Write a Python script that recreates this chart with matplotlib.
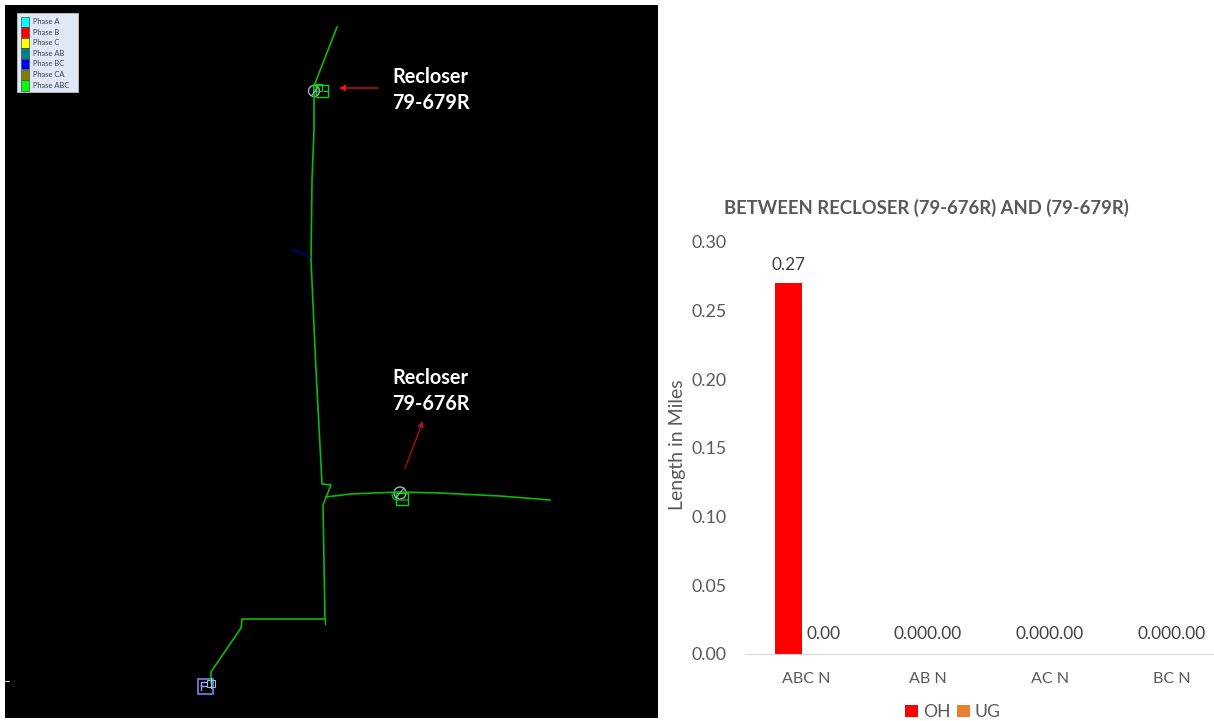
import matplotlib
matplotlib.use('Agg')
import matplotlib.pyplot as plt
from matplotlib.patches import Rectangle, Circle

plt.rcParams['font.family'] = ['Lato', 'DejaVu Sans']

W, H = 1214, 721

# Bar chart data
categories = ['ABC N', 'AB N', 'AC N', 'BC N']
oh_values = [0.27, 0, 0, 0]
ug_values = [0, 0, 0, 0]
y_ticks = [0.00, 0.05, 0.10, 0.15, 0.20, 0.25, 0.30]

# Map legend
phase_names = ['Phase A', 'Phase B', 'Phase C', 'Phase AB', 'Phase BC', 'Phase CA', 'Phase ABC']
phase_colors = ['#00ffff', '#ff0000', '#ffff00', '#008080', '#0000ff', '#808000', '#00ff00']

# Map lines, in image pixels
main_x = [337, 314, 314, 312, 311, 316, 322, 331, 323, 325, 242, 241, 211, 211]
main_y = [27, 86, 130, 180, 260, 370, 484, 485, 505, 619, 619, 628, 672, 682]
branch_x = [326, 350, 400, 440, 500, 550]
branch_y = [497, 494, 492, 493, 496, 500]
stub_x = [293, 310]
stub_y = [250, 257]

GREEN = '#0bb80b'
TEXT = '#595959'

fig = plt.figure(figsize=(W / 100, H / 100), dpi=100, facecolor='white')

# Left panel: everything placed in image pixels
mp = fig.add_axes([0, 0, 1, 1])
mp.set_xlim(0, W)
mp.set_ylim(H, 0)
mp.axis('off')
mp.add_patch(Rectangle((5, 5), 653, 713, facecolor='black', edgecolor='none'))
mp.plot([5, 9], [681, 681], color='white', lw=0.6)

mp.plot(main_x, main_y, color=GREEN, lw=1.2)
mp.plot([325, 325], [619, 624], color=GREEN, lw=1.0)
mp.plot(branch_x, branch_y, color=GREEN, lw=1.2)
mp.plot(stub_x, stub_y, color='#0000a0', lw=1.0)

# Legend box
mp.add_patch(Rectangle((17, 13), 61, 79, facecolor='#dfe8f4', edgecolor='#c8d0dc', lw=0.5))
for i, (name, col) in enumerate(zip(phase_names, phase_colors)):
    yc = 21.5 + i * 10.6
    mp.add_patch(Rectangle((21, yc - 5), 8, 10.4, facecolor=col, edgecolor='#405040', lw=0.5))
    mp.text(33, yc, name, fontsize=5.4, color='#404050', va='center', ha='left')

# Recloser 79-679R symbol
mp.add_patch(Circle((314, 91), 5.5, fill=False, edgecolor='#8fb8c8', lw=1))
mp.plot([312, 318], [95, 87], color='#8fb8c8', lw=0.8)
mp.add_patch(Rectangle((316, 85), 12, 12, fill=False, edgecolor='#10d010', lw=1))
mp.add_patch(Rectangle((313, 84), 9, 7, fill=False, edgecolor='#10d010', lw=0.8))
mp.plot([324, 328], [91, 91], color='#10d010', lw=0.8)

# Recloser 79-676R symbol
mp.add_patch(Circle((400, 493), 6, fill=False, edgecolor='#8fb8c8', lw=1))
mp.plot([396, 404], [498, 488], color='#8fb8c8', lw=0.8)
mp.add_patch(Rectangle((396, 493), 12, 12, fill=False, edgecolor='#10d010', lw=1))
mp.plot([392, 393, 396, 408], [494, 498, 500, 500], color=GREEN, lw=1)

# Source symbol at the bottom
mp.add_patch(Rectangle((197.5, 679), 15, 15, fill=False, edgecolor='#8080e0', lw=1.2))
mp.plot([201, 201, 207], [690, 682, 682], color='#a0a0f0', lw=1)
mp.plot([201, 206], [686, 686], color='#a0a0f0', lw=1)
mp.add_patch(Rectangle((207, 680), 8, 7, fill=False, edgecolor='#90c0e0', lw=0.8))
mp.plot([211, 211], [678, 688], color='#90d0e0', lw=0.8)

# Annotations
mp.text(392, 77, 'Recloser', color='white', fontsize=14.3, fontweight='bold', va='center', ha='left')
mp.text(392, 103, '79-679R', color='white', fontsize=14.3, fontweight='bold', va='center', ha='left')
mp.text(392, 378, 'Recloser', color='white', fontsize=14.3, fontweight='bold', va='center', ha='left')
mp.text(392, 404, '79-676R', color='white', fontsize=14.3, fontweight='bold', va='center', ha='left')
mp.annotate('', xy=(339, 88), xytext=(378, 88),
            arrowprops=dict(arrowstyle='-|>', color='#f01020', lw=0.9, mutation_scale=9,
                            shrinkA=0, shrinkB=0))
mp.annotate('', xy=(423, 421), xytext=(405, 468),
            arrowprops=dict(arrowstyle='-|>', color='#b01020', lw=0.9, mutation_scale=9,
                            shrinkA=0, shrinkB=0))

# Right panel: bar chart
left, right, top, bottom = 745, 1214, 242, 654
ax = fig.add_axes([left / W, 1 - bottom / H, (right - left) / W, (bottom - top) / H])
ax.patch.set_alpha(0)
ax.set_ylim(0, 0.30)
ax.set_xlim(-0.5, -0.5 + (right - left) / 122)

for i, cat in enumerate(categories):
    ax.bar(i - 0.143, oh_values[i], width=0.22, color='#ff0000', label='OH' if i == 0 else None)
    ax.bar(i + 0.08, ug_values[i], width=0.22, color='#ed7d31', label='UG' if i == 0 else None)

ax.text(-0.143, oh_values[0] + 0.0075, f'{oh_values[0]:.2f}', ha='center', va='bottom',
        fontsize=12.4, color='#404040')
ax.text(0.14, 0.0085, f'{ug_values[0]:.2f}', ha='center', va='bottom',
        fontsize=12.4, color='#404040')
for i in range(1, len(categories)):
    ax.text(i, 0.0085, f'{oh_values[i]:.2f}{ug_values[i]:.2f}', ha='center', va='bottom',
            fontsize=12.4, color='#404040')

ax.set_xticks(range(len(categories)))
ax.set_xticklabels(categories, fontsize=11.6, color=TEXT)
ax.set_yticks(y_ticks)
ax.set_yticklabels([f'{v:.2f}' for v in y_ticks], fontsize=12.8, color=TEXT)
ax.tick_params(axis='both', length=0)
ax.tick_params(axis='x', pad=13)
ax.tick_params(axis='y', pad=13)
for s in ['top', 'right', 'left']:
    ax.spines[s].set_visible(False)
ax.spines['bottom'].set_color('#d9d9d9')
ax.set_ylabel('Length in Miles', fontsize=14, color=TEXT)
ax.yaxis.set_label_coords((686 - left) / (right - left), 0.507)

mp.text(926, 208, 'BETWEEN RECLOSER (79-676R) AND (79-679R)', fontsize=13.3, fontweight='bold',
        color=TEXT, ha='center', va='center')

handles, labels = ax.get_legend_handles_labels()
fig.legend(handles, labels, ncol=2, loc='center', bbox_to_anchor=(953 / W, 1 - 712 / H),
           frameon=False, fontsize=12.6, labelcolor=TEXT, handlelength=0.7, handleheight=0.7,
           handletextpad=0.3, columnspacing=0.4)

fig.savefig('out.png', dpi=100)
